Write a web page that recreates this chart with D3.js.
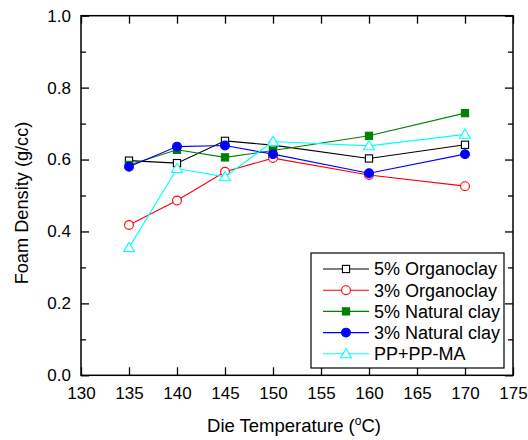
<!DOCTYPE html>
<html>
<head>
<meta charset="utf-8">
<script src="https://cdn.jsdelivr.net/npm/d3@7/dist/d3.min.js"></script>
<style>
  html, body { margin: 0; padding: 0; background: #fff; }
  svg { display: block; font-family: "Liberation Sans", Arial, sans-serif; }
</style>
</head>
<body>
<svg id="chart" width="528" height="440"></svg>
<script>
// Die temperatures (°C)
const temperatures = [135, 140, 145, 150, 160, 170];

// Foam density (g/cc) per formulation
const organo5  = [0.597, 0.590, 0.652, 0.640, 0.603, 0.641];
const organo3  = [0.418, 0.486, 0.566, 0.604, 0.557, 0.526];
const natural5 = [0.585, 0.627, 0.606, 0.625, 0.666, 0.729];
const natural3 = [0.580, 0.636, 0.639, 0.615, 0.562, 0.615];
const ppMa     = [0.355, 0.575, 0.552, 0.650, 0.638, 0.670];

const seriesNames = ["5% Organoclay", "3% Organoclay", "5% Natural clay", "3% Natural clay", "PP+PP-MA"];

const xTicks = [130, 135, 140, 145, 150, 155, 160, 165, 170, 175];
const yTicks = [0.0, 0.2, 0.4, 0.6, 0.8, 1.0];
const yMinorTicks = [0.1, 0.3, 0.5, 0.7, 0.9];

const series = [
  { name: seriesNames[0], values: organo5,  color: "#000000", shape: "square",   fill: "#ffffff" },
  { name: seriesNames[1], values: organo3,  color: "#ff0000", shape: "circle",   fill: "#ffffff" },
  { name: seriesNames[2], values: natural5, color: "#008000", shape: "square",   fill: "#008000" },
  { name: seriesNames[3], values: natural3, color: "#0000ff", shape: "circle",   fill: "#0000ff" },
  { name: seriesNames[4], values: ppMa,     color: "#00ffff", shape: "triangle", fill: "#ffffff" }
];

const svg = d3.select("#chart");
const plot = { left: 81, right: 513, top: 15.7, bottom: 375.3 };

const x = d3.scaleLinear().domain([130, 175]).range([plot.left, plot.right]);
const y = d3.scaleLinear().domain([0, 1]).range([plot.bottom, plot.top]);

const tickFont = 17;

// Axes: ticks point inward on all four sides
const bottomAxis = d3.axisBottom(x).tickValues(xTicks).tickSizeInner(-8).tickSizeOuter(0)
  .tickFormat(d3.format("d")).tickPadding(12);
const topAxis = d3.axisTop(x).tickValues(xTicks).tickSizeInner(-8).tickSizeOuter(0).tickFormat("");
const leftAxis = d3.axisLeft(y).tickValues(yTicks).tickSizeInner(-8).tickSizeOuter(0)
  .tickFormat(d3.format(".1f")).tickPadding(10);
const rightAxis = d3.axisRight(y).tickValues(yTicks).tickSizeInner(-8).tickSizeOuter(0).tickFormat("");
const leftMinor = d3.axisLeft(y).tickValues(yMinorTicks).tickSizeInner(-5).tickSizeOuter(0).tickFormat("");
const rightMinor = d3.axisRight(y).tickValues(yMinorTicks).tickSizeInner(-5).tickSizeOuter(0).tickFormat("");

function styleAxis(g) {
  g.select(".domain").remove();
  g.selectAll(".tick line").attr("stroke", "#000").attr("stroke-width", 1.3);
  g.selectAll(".tick text").attr("fill", "#000").attr("font-size", tickFont)
    .attr("font-family", "Liberation Sans, Arial, sans-serif");
}

svg.append("g").attr("transform", `translate(0,${plot.bottom})`).call(bottomAxis).call(styleAxis);
svg.append("g").attr("transform", `translate(0,${plot.top})`).call(topAxis).call(styleAxis);
svg.append("g").attr("transform", `translate(${plot.left},0)`).call(leftAxis).call(styleAxis);
svg.append("g").attr("transform", `translate(${plot.right},0)`).call(rightAxis).call(styleAxis);
svg.append("g").attr("transform", `translate(${plot.left},0)`).call(leftMinor).call(styleAxis);
svg.append("g").attr("transform", `translate(${plot.right},0)`).call(rightMinor).call(styleAxis);

// Plot frame
svg.append("rect")
  .attr("x", plot.left).attr("y", plot.top)
  .attr("width", plot.right - plot.left).attr("height", plot.bottom - plot.top)
  .attr("fill", "none").attr("stroke", "#000").attr("stroke-width", 1.5);

// Axis titles
svg.append("text")
  .attr("x", 294).attr("y", 432)
  .attr("text-anchor", "middle").attr("font-size", 18.5).attr("fill", "#000")
  .call(t => {
    t.append("tspan").text("Die Temperature (");
    t.append("tspan").attr("font-size", 12).attr("dy", -7).text("o");
    t.append("tspan").attr("dy", 7).text("C)");
  });

svg.append("text")
  .attr("transform", "translate(28,203) rotate(-90)")
  .attr("text-anchor", "middle").attr("font-size", 18.2).attr("fill", "#000")
  .text("Foam Density (g/cc)");

// Marker drawing
function drawMarker(g, shape, cx, cy, color, fill) {
  if (shape === "square") {
    g.append("rect").attr("x", cx - 3.6).attr("y", cy - 3.6).attr("width", 7.2).attr("height", 7.2)
      .attr("fill", fill).attr("stroke", color).attr("stroke-width", 1.1);
  } else if (shape === "circle") {
    g.append("circle").attr("cx", cx).attr("cy", cy).attr("r", 4.4)
      .attr("fill", fill).attr("stroke", color).attr("stroke-width", 1.1);
  } else {
    const s = 5.2;
    g.append("path")
      .attr("d", `M${cx},${cy - s} L${cx + s * 1.05},${cy + s * 0.75} L${cx - s * 1.05},${cy + s * 0.75} Z`)
      .attr("fill", fill).attr("stroke", color).attr("stroke-width", 1.1);
  }
}

const line = d3.line()
  .x((d, i) => x(temperatures[i]))
  .y(d => y(d));

const dataLayer = svg.append("g");
series.forEach(s => {
  const g = dataLayer.append("g");
  g.append("path").datum(s.values).attr("d", line)
    .attr("fill", "none").attr("stroke", s.color).attr("stroke-width", 1.1);
  s.values.forEach((v, i) => drawMarker(g, s.shape, x(temperatures[i]), y(v), s.color, s.fill));
});

// Legend
const legend = svg.append("g");
legend.append("rect")
  .attr("x", 311).attr("y", 253).attr("width", 193).attr("height", 115)
  .attr("fill", "#fff").attr("stroke", "#000").attr("stroke-width", 1.2);

series.forEach((s, i) => {
  const ly = 269 + i * 21.2;
  const g = legend.append("g");
  g.append("line").attr("x1", 323).attr("x2", 369).attr("y1", ly).attr("y2", ly)
    .attr("stroke", s.color).attr("stroke-width", 1.1);
  drawMarker(g, s.shape, 346, ly, s.color, s.fill);
  g.append("text").attr("x", 374).attr("y", ly + 6.3)
    .attr("font-size", 18).attr("fill", "#000").text(s.name);
});
</script>
</body>
</html>
